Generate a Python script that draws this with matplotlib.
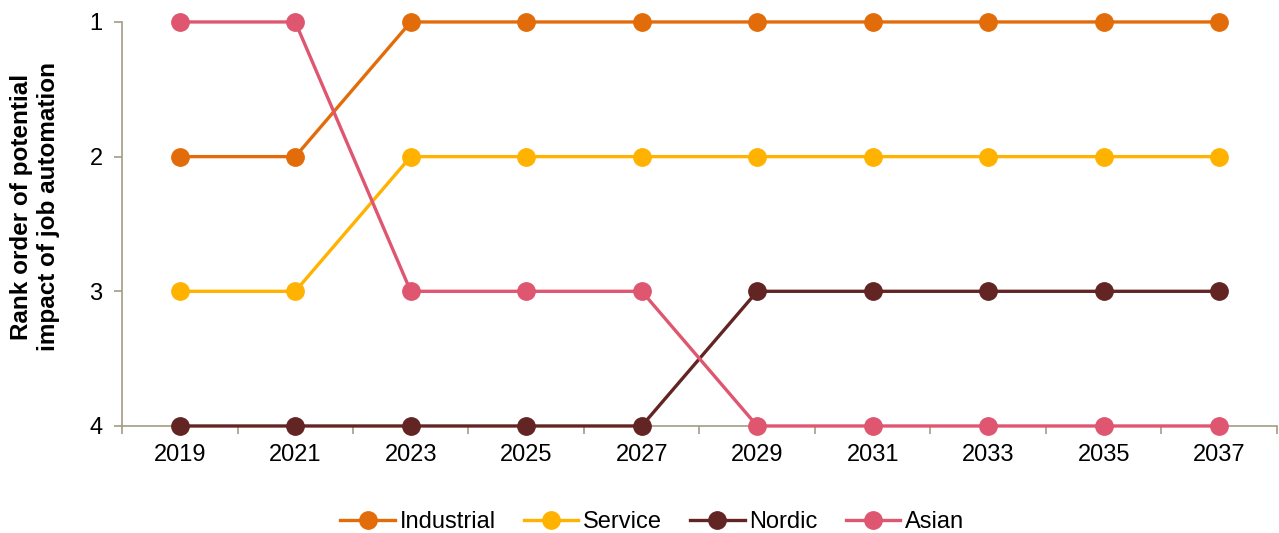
import numpy as np
import matplotlib.pyplot as plt
from matplotlib.ticker import FixedLocator

plt.rcParams['font.family'] = ['Liberation Sans', 'DejaVu Sans']

years = ['2019', '2021', '2023', '2025', '2027', '2029', '2031', '2033', '2035', '2037']
industrial = [2, 2, 1, 1, 1, 1, 1, 1, 1, 1]
service = [3, 3, 2, 2, 2, 2, 2, 2, 2, 2]
nordic = [4, 4, 4, 4, 4, 3, 3, 3, 3, 3]
asian = [1, 1, 3, 3, 3, 4, 4, 4, 4, 4]

series = [
    ('Industrial', industrial, '#E36C0A'),
    ('Service', service, '#FFB300'),
    ('Nordic', nordic, '#632523'),
    ('Asian', asian, '#DE566F'),
]

axis_col = '#A39C84'

fig = plt.figure(figsize=(12.79, 5.33), dpi=100)
ax = fig.add_axes([0.0954, 0.2008, 0.903, 0.758])

x = np.arange(len(years))
for name, vals, col in series:
    ax.plot(x, vals, color=col, lw=2.4, marker='o', ms=12.5, label=name,
            clip_on=False, zorder=3)

ax.set_xlim(-0.5, len(years) - 0.5)
ax.set_ylim(4, 1)
ax.set_yticks([1, 2, 3, 4])
ax.set_yticklabels(['1', '2', '3', '4'])
ax.set_xticks(x)
ax.set_xticklabels(years)
ax.xaxis.set_minor_locator(FixedLocator(np.arange(-0.5, len(years), 1.0)))
ax.tick_params(axis='x', which='major', length=0, pad=13, labelsize=17)
ax.tick_params(axis='x', which='minor', length=6, width=1.2, color=axis_col)
ax.tick_params(axis='y', length=6, width=1.2, color=axis_col, pad=8, labelsize=17)

for s in ['top', 'right']:
    ax.spines[s].set_visible(False)
for s in ['left', 'bottom']:
    ax.spines[s].set_color(axis_col)
    ax.spines[s].set_linewidth(1.2)

ax.set_ylabel('Rank order of potential\nimpact of job automation',
              fontsize=17.5, fontweight='bold')
ax.yaxis.set_label_coords(-0.054, 0.542)

fig.legend(loc='center', bbox_to_anchor=(0.51, 0.02), ncol=4, frameon=False,
           fontsize=17, handlelength=2.3, handletextpad=0.2, columnspacing=1.2,
           borderpad=0.1)

fig.savefig('out.png', dpi=100)
